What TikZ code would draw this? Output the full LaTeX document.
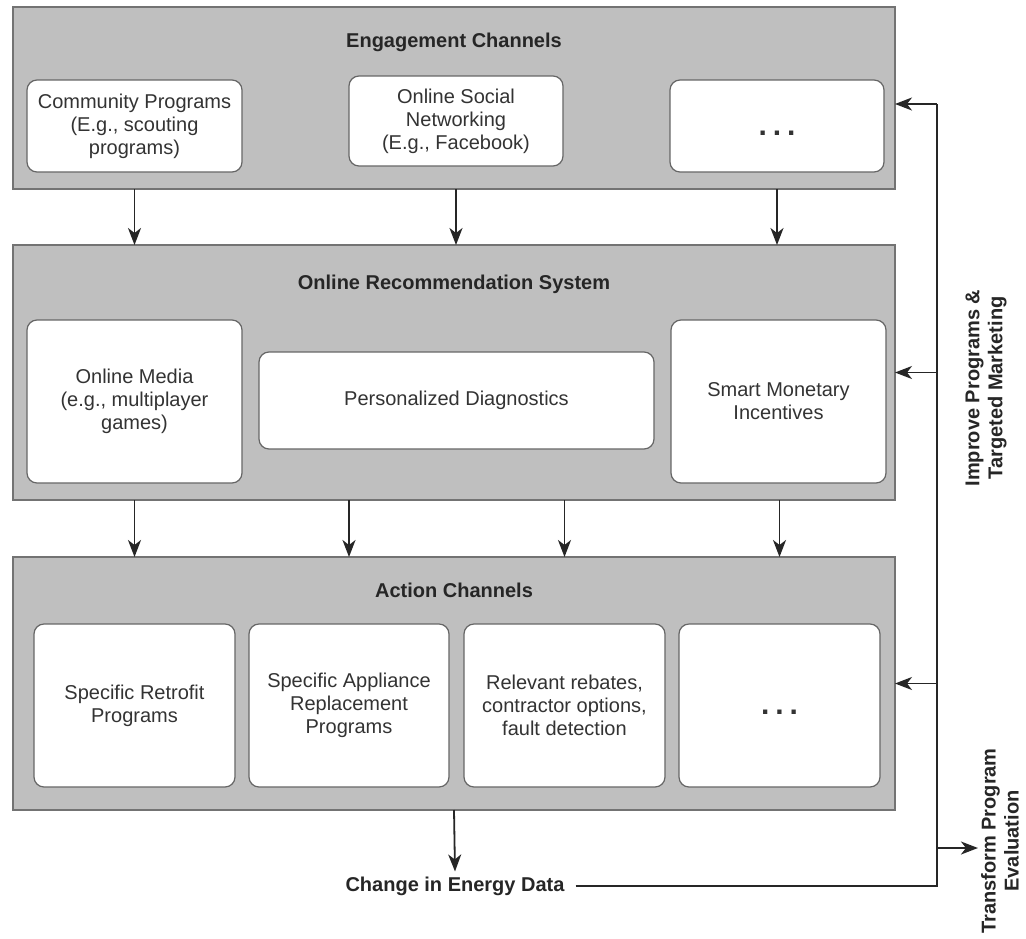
\documentclass[tikz,border=0pt]{standalone}
\usepackage{fontspec}
\setmainfont{Liberation Sans}
\usetikzlibrary{arrows.meta}
\begin{document}
\begin{tikzpicture}[x=1pt,y=-1pt,
  panel/.style={draw=black!55, fill=black!25, line width=1.3pt, inner sep=0pt, outer sep=0pt},
  box/.style={draw=black!60, fill=white, rounded corners=10pt, line width=1.2pt, align=center,
    inner sep=0pt, outer sep=0pt, text=black!80, font=\fontsize{20}{23}\selectfont},
  titletext/.style={text=black!85, font=\bfseries\fontsize{20}{23}\selectfont},
  sidelabel/.style={text=black!85, align=center, rotate=90, inner sep=3pt, font=\bfseries\fontsize{20}{23}\selectfont},
  arr/.style={draw=black!85, line width=1.8pt, -{Stealth[length=17pt,width=13pt,inset=5pt]}},
  plain/.style={draw=black!85, line width=1.8pt}
]
\useasboundingbox (0,0) rectangle (1026,938);
\fill[white] (0,0) rectangle (1026,938);

% panels
\node[panel, minimum width=882pt, minimum height=182pt] (p1) at (454,98) {};
\node[panel, minimum width=882pt, minimum height=255pt] (p2) at (454,372.5) {};
\node[panel, minimum width=882pt, minimum height=253pt] (p3) at (454,683.5) {};

% titles
\node[titletext] (t1) at (454,42) {Engagement Channels};
\node[titletext] (t2) at (454,284) {Online Recommendation System};
\node[titletext] (t3) at (454,590) {Action Channels};

% engagement boxes
\node[box, minimum width=215pt, minimum height=92pt] (b11) at (134.5,126) {Community Programs\\(E.g., scouting\\programs)};
\node[box, minimum width=214pt, minimum height=90pt] (b12) at (456,121) {Online Social\\Networking\\(E.g., Facebook)};
\node[box, minimum width=214pt, minimum height=92pt] (b13) at (777,126) {\raisebox{-9pt}[0pt][0pt]{\textbf{\fontsize{30}{30}\selectfont .\hspace{6pt}.\hspace{6pt}.}}};

% recommendation boxes
\node[box, minimum width=215pt, minimum height=163pt] (b21) at (134.5,401.5) {Online Media\\(e.g., multiplayer\\games)};
\node[box, minimum width=395pt, minimum height=97pt] (b22) at (456.5,400.5) {Personalized Diagnostics};
\node[box, minimum width=215pt, minimum height=163pt] (b23) at (778.5,401.5) {Smart Monetary\\Incentives};

% action boxes
\node[box, minimum width=201pt, minimum height=163pt] (b31) at (134.5,705.5) {Specific Retrofit\\Programs};
\node[box, minimum width=200pt, minimum height=163pt] (b32) at (349,705.5) {Specific Appliance\\Replacement\\Programs};
\node[box, minimum width=201pt, minimum height=163pt] (b33) at (564.5,705.5) {Relevant rebates,\\contractor options,\\fault detection};
\node[box, minimum width=201pt, minimum height=163pt] (b34) at (779.5,705.5) {\raisebox{-9pt}[0pt][0pt]{\textbf{\fontsize{30}{30}\selectfont .\hspace{6pt}.\hspace{6pt}.}}};

% output label
\node[titletext, inner sep=5pt] (ced) at (455,886) {Change in Energy Data};

% side labels
\node[sidelabel] (ipe) at (986,388) {Improve Programs \&\\Targeted Marketing};
\node[sidelabel] (tpe) at (1000,841) {Transform Program\\Evaluation};

% arrows between panels
\draw[arr] (p1.south -| b11) -- (p2.north -| b11);
\draw[arr] (p1.south -| b12) -- (p2.north -| b12);
\draw[arr] (p1.south -| b13) -- (p2.north -| b13);
\draw[arr] (p2.south -| b31) -- (p3.north -| b31);
\draw[arr] (p2.south -| b32) -- (p3.north -| b32);
\draw[arr] (p2.south -| b33) -- (p3.north -| b33);
\draw[arr] (p2.south -| b34) -- (p3.north -| b34);
\draw[arr] (p3.south) -- (ced.north);

% feedback loop
\coordinate (ftop) at (937,104);
\coordinate (fout) at (937,848);
\draw[plain, shorten <=6pt] (ced.east) -| (ftop);
\draw[arr] (ftop) -- (ftop -| p1.east);
\draw[arr] (p2.east -| ftop) -- (p2.east);
\draw[arr] (p3.east -| ftop) -- (p3.east);
\draw[arr] (fout) -- (fout -| tpe.north);
\end{tikzpicture}
\end{document}
